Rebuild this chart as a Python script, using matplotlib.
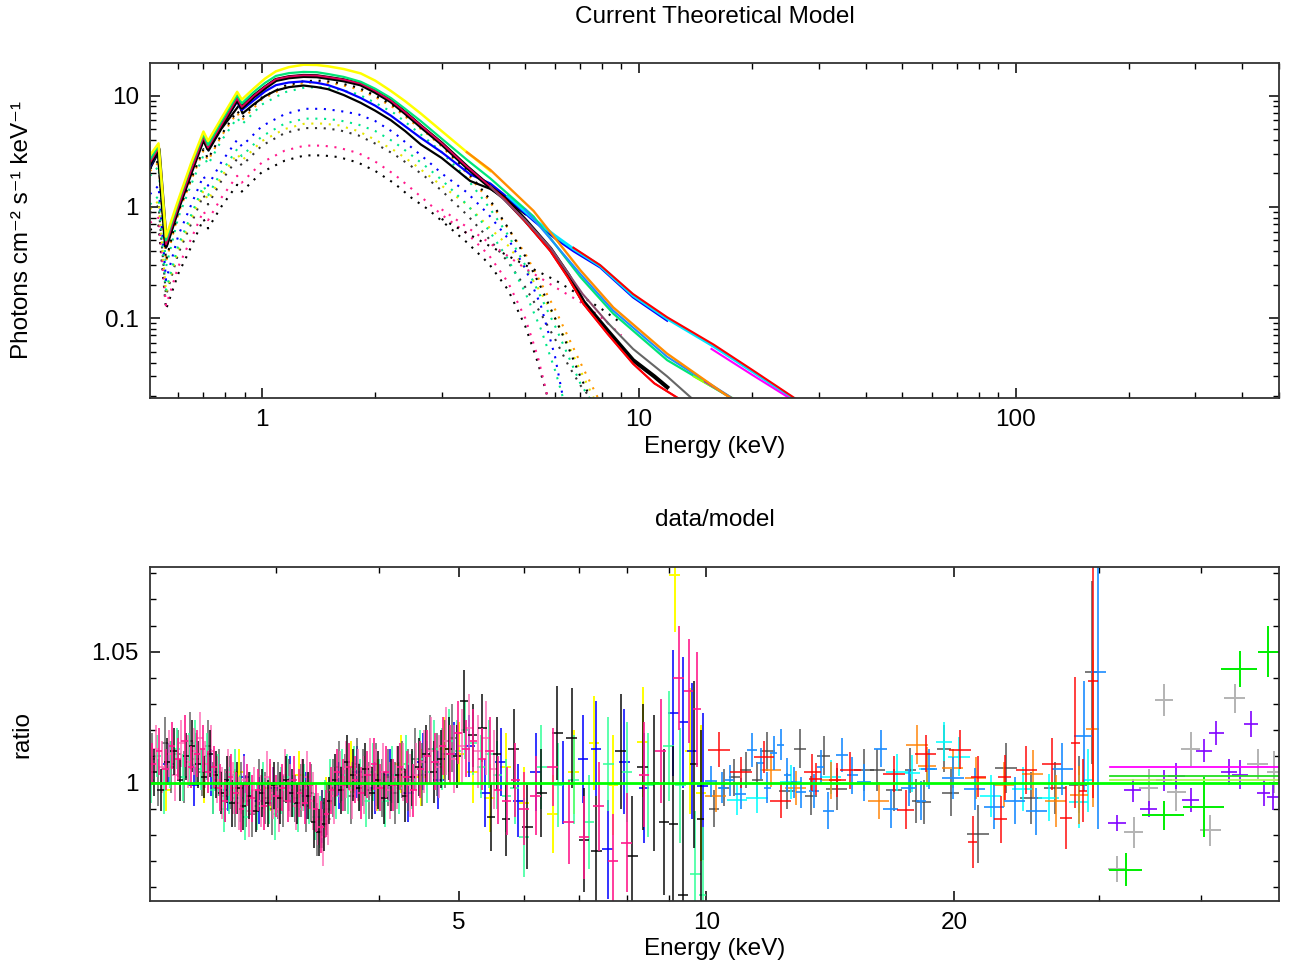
import numpy as np
import matplotlib
matplotlib.use('Agg')
import matplotlib.pyplot as plt
from matplotlib.ticker import FixedLocator, FixedFormatter, NullFormatter, MultipleLocator

plt.rcParams['font.family'] = ['Liberation Sans', 'DejaVu Sans']
FS = 17.5

# ---------------- top panel: model curves (keV, photons cm^-2 s^-1 keV^-1) ----------------
soft_e = [0.505, 0.532, 0.557, 0.60, 0.65, 0.70, 0.72, 0.78, 0.86, 0.885, 0.95, 1.02, 1.09, 1.18, 1.29, 1.4, 1.5,
          1.65, 1.83, 2.0, 2.2, 2.4, 2.64, 3.0, 3.5, 4.04]
yellow_f = [2.9, 3.72, 0.54, 1.15, 2.5, 4.75, 3.9, 6.2, 10.8, 9.2, 11.5, 14.2, 16.5, 18.0, 18.9, 18.8, 18.3,
            17.3, 15.8, 13.6, 11.0, 8.9, 6.9, 4.8, 3.1, 2.1]

green_e = soft_e + [5.26, 7.0, 8.56, 11.9, 17.6]
green_f = [2.65, 3.55, 0.5, 1.1, 2.4, 4.5, 3.6, 5.8, 10.1, 8.5, 10.7, 13.0, 15.0, 15.9, 16.3, 16.2, 15.6,
           14.7, 13.3, 11.5, 9.5, 7.6, 5.9, 4.1, 2.65, 1.8,
           0.82, 0.235, 0.11, 0.042, 0.0192]

red_e = soft_e + [4.4, 5.0, 5.83, 6.5, 7.14, 8.25, 9.66, 11.0, 12.7]
red_f = [2.5, 3.35, 0.46, 1.0, 2.15, 4.2, 3.4, 5.4, 9.4, 7.9, 9.9, 12.0, 14.0, 14.8, 15.2, 15.1, 14.6,
         13.9, 12.8, 11.0, 9.0, 7.1, 5.4, 3.75, 2.3, 1.52,
         1.18, 0.74, 0.40, 0.23, 0.134, 0.073, 0.039, 0.026, 0.0192]
blackthick_e = soft_e + [4.4, 5.0, 5.83, 6.5, 7.14, 8.25, 9.66, 11.0, 11.9]
blackthick_f = [2.45, 3.3, 0.45, 0.98, 2.1, 4.15, 3.35, 5.3, 9.3, 7.8, 9.8, 11.8, 13.8, 14.6, 15.0, 14.9, 14.4,
                13.7, 12.6, 10.8, 8.9, 7.0, 5.3, 3.7, 2.28, 1.5,
                1.2, 0.76, 0.42, 0.245, 0.14, 0.078, 0.042, 0.03, 0.024]

mauve_e = [4.04, 5.0, 5.83, 7.1, 8.25]
mauve_f = [1.52, 0.76, 0.43, 0.165, 0.092]
gray_e = [8.25, 9.66, 11.9, 13.8]
gray_f = [0.092, 0.053, 0.03, 0.0192]

blue_e = [0.505, 0.532, 0.557, 0.60, 0.65, 0.70, 0.72, 0.78, 0.86, 0.885, 0.95, 1.02, 1.09, 1.18, 1.29, 1.4, 1.5,
          1.65, 1.83, 2.0, 2.2, 2.4, 2.64, 3.0, 3.57, 4.04, 4.38, 5.26, 6.0, 6.71, 7.9, 9.66, 11.9]
blue_f = [2.3, 3.2, 0.44, 1.0, 2.2, 4.1, 3.3, 5.3, 8.8, 7.4, 9.0, 10.9, 12.4, 13.1, 13.4, 13.0, 12.4,
          11.1, 9.5, 8.1, 6.6, 5.3, 4.17, 3.1, 1.96, 1.62, 1.30, 0.75, 0.52, 0.40, 0.286, 0.154, 0.095]

blacklow_e = [0.505, 0.532, 0.557, 0.60, 0.65, 0.70, 0.722, 0.78, 0.871, 0.889, 0.95, 1.02, 1.09, 1.18, 1.29, 1.4,
              1.5, 1.65, 1.83, 2.0, 2.2, 2.4, 2.64, 3.0, 3.57, 4.04, 4.38, 5.0]
blacklow_f = [2.2, 3.1, 0.43, 0.98, 2.1, 4.0, 3.2, 5.0, 8.2, 6.9, 8.3, 9.9, 11.1, 11.9, 12.3, 11.9,
              11.4, 10.1, 8.6, 7.3, 6.0, 4.8, 3.64, 2.75, 1.71, 1.45, 1.22, 0.86]

cyan_e = [4.5, 5.26, 6.0, 6.71, 7.9, 9.66, 11.9, 15.8, 20.1, 25.6]
cyan_f = [1.25, 0.78, 0.55, 0.42, 0.295, 0.16, 0.099, 0.056, 0.033, 0.0192]
redhard_e = [6.71, 7.9, 9.66, 11.9, 15.8, 20.1, 25.9]
redhard_f = [0.43, 0.30, 0.165, 0.102, 0.058, 0.034, 0.0192]
magenta_e = [15.6, 20.0, 25.1]
magenta_f = [0.053, 0.031, 0.0192]

orange_e = [3.5, 4.04, 5.26, 7.0, 8.56, 11.9, 17.5]
orange_f = [3.1, 2.15, 0.92, 0.27, 0.125, 0.048, 0.0192]
dodger_e = [5.0, 7.0, 8.56, 11.9, 17.7]
dodger_f = [0.95, 0.25, 0.117, 0.045, 0.0192]
lime_e = [14.0, 17.7]
lime_f = [0.03, 0.0192]
violet_e = [15.0, 17.6]
violet_f = [0.027, 0.0192]

# dotted model components
dot_e = [0.505, 0.532, 0.557, 0.60, 0.65, 0.70, 0.72, 0.78, 0.86, 0.885, 1.0, 1.15, 1.3, 1.45, 1.6, 1.8, 2.0,
         2.25, 2.5, 2.75, 3.0, 3.5, 4.0, 4.5, 5.0]
comp1_f = [2.2, 2.6, 0.33, 0.9, 1.8, 3.3, 2.7, 4.4, 7.3, 6.3, 9.6, 12.2, 13.5, 13.6, 13.0, 11.8, 10.0,
           8.0, 6.0, 4.7, 3.6, 2.1, 1.2, 0.65, 0.36]
comp1_tail_e = [5.5, 6.0, 6.5, 7.0, 7.45]
comp1_tail_f = [0.19, 0.10, 0.055, 0.030, 0.0192]
comp2_f = [2.1, 2.5, 0.32, 0.87, 1.75, 3.2, 2.6, 4.3, 7.0, 6.0, 9.2, 11.8, 13.0, 13.1, 12.6, 11.4, 9.7,
           7.7, 5.8, 4.5, 3.5, 2.0, 1.15, 0.64, 0.38]
comp2_tail_e = [6.0, 7.0, 7.8]
comp2_tail_f = [0.12, 0.04, 0.0192]
comp3_f = [1.9, 2.3, 0.29, 0.8, 1.6, 2.9, 2.4, 3.9, 6.3, 5.5, 8.3, 10.7, 11.8, 11.9, 11.3, 10.3, 8.6,
           6.9, 5.2, 4.0, 3.1, 1.8, 1.0, 0.56, 0.30]
comp3_tail_e = [6.0, 7.0, 7.4]
comp3_tail_f = [0.085, 0.026, 0.0192]
comp4_f = [1.3, 1.55, 0.22, 0.55, 1.05, 1.9, 1.55, 2.5, 4.0, 3.5, 5.3, 6.8, 7.6, 7.6, 7.3, 6.8, 5.9,
           4.6, 3.4, 2.6, 2.0, 1.35, 0.85, 0.52, 0.28]
comp4_tail_e = [5.5, 6.0, 6.3]
comp4_tail_f = [0.13, 0.045, 0.0192]
comp5_f = [1.05, 1.25, 0.18, 0.45, 0.85, 1.55, 1.27, 2.05, 3.3, 2.85, 4.3, 5.6, 6.2, 6.2, 6.0, 5.5, 4.8,
           3.8, 2.9, 2.25, 1.75, 1.05, 0.62, 0.34, 0.17]
comp5_tail_e = [5.5, 6.0, 6.3]
comp5_tail_f = [0.08, 0.034, 0.0192]
comp6_f = [0.95, 1.13, 0.17, 0.41, 0.78, 1.4, 1.15, 1.85, 3.0, 2.6, 3.9, 5.0, 5.6, 5.6, 5.4, 4.8, 4.0,
           3.2, 2.5, 1.95, 1.55, 1.05, 0.66, 0.45, 0.28]
comp6_tail_e = [5.5, 6.0, 6.5, 7.0, 7.6]
comp6_tail_f = [0.17, 0.10, 0.058, 0.034, 0.0192]
comp7_f = [0.88, 1.03, 0.16, 0.38, 0.71, 1.28, 1.05, 1.7, 2.7, 2.35, 3.55, 4.6, 5.1, 5.1, 4.9, 4.4, 3.7,
           2.95, 2.3, 1.8, 1.4, 0.85, 0.52, 0.32, 0.19]
comp7_tail_e = [5.5, 6.0, 6.5, 7.0, 7.45]
comp7_tail_f = [0.11, 0.065, 0.038, 0.025, 0.0192]
comp8_f = [0.72, 0.8, 0.13, 0.29, 0.52, 0.92, 0.76, 1.2, 1.9, 1.65, 2.5, 3.2, 3.55, 3.55, 3.4, 3.05, 2.55,
           1.95, 1.45, 1.1, 0.85, 0.58, 0.37, 0.21, 0.10]
comp8_tail_e = [5.4, 5.74]
comp8_tail_f = [0.045, 0.0192]
comp9_f = [0.62, 0.68, 0.12, 0.25, 0.44, 0.78, 0.64, 1.0, 1.58, 1.37, 2.05, 2.6, 2.9, 2.9, 2.8, 2.5, 2.1,
           1.62, 1.2, 0.96, 0.75, 0.48, 0.31, 0.18, 0.085]
comp9_tail_e = [5.4, 5.74]
comp9_tail_f = [0.04, 0.0192]

pl_e = [3.0, 4.0, 5.0, 6.0, 7.0, 8.0, 9.0]
pl_pink_f = [0.95, 0.48, 0.28, 0.19, 0.14, 0.10, 0.07]
pl_black_f = [0.78, 0.45, 0.30, 0.22, 0.16, 0.12, 0.09]

# ---------------- bottom panel: data/model ratios ----------------
pink_e = [2.12, 2.16, 2.20, 2.24, 2.28, 2.32, 2.36, 2.40, 2.44, 2.48,
          2.52, 2.56, 2.60, 2.64, 2.68, 2.72, 2.76, 2.80, 2.85, 2.90,
          2.95, 3.00, 3.05, 3.10, 3.15, 3.20, 3.25, 3.30, 3.35, 3.40,
          3.45, 3.50, 3.56, 3.62, 3.68, 3.74, 3.80, 3.87, 3.94, 4.01,
          4.08, 4.16, 4.24, 4.32, 4.40, 4.49, 4.58, 4.68, 4.78, 4.88,
          4.99, 5.10, 5.21, 5.33, 5.45, 5.58, 5.72, 5.86, 6.0, 6.2,
          6.5, 6.8, 7.1, 7.4, 7.7, 8.0, 8.4, 8.8, 9.25, 9.52, 9.75]
pink_r = [1.007, 1.012, 1.005, 1.014, 1.009, 1.016, 1.006, 1.011, 1.013, 1.004,
          1.006, 0.998, 0.993, 1.002, 0.996, 0.990, 0.999, 0.994, 0.997, 0.991,
          1.000, 0.995, 0.998, 0.993, 1.001, 0.996, 0.992, 0.999, 0.990, 0.983,
          0.988, 0.997, 1.004, 0.999, 1.006, 1.001, 0.996, 1.003, 1.007, 0.998,
          1.004, 0.999, 1.006, 1.002, 0.997, 1.005, 1.010, 1.008, 1.014, 1.011,
          1.019, 1.013, 1.016, 1.009, 1.012, 0.997, 0.993, 1.001, 0.990, 0.995,
          1.006, 0.985, 0.979, 0.991, 0.970, 0.977, 1.003, 1.012, 1.040, 1.035, 1.028]
pink_err = [0.008, 0.009, 0.008, 0.009, 0.008, 0.010, 0.008, 0.009, 0.009, 0.008,
            0.008, 0.009, 0.008, 0.009, 0.008, 0.009, 0.008, 0.009, 0.008, 0.009,
            0.009, 0.008, 0.009, 0.008, 0.009, 0.009, 0.008, 0.009, 0.009, 0.010,
            0.009, 0.009, 0.009, 0.010, 0.009, 0.009, 0.010, 0.009, 0.010, 0.009,
            0.010, 0.010, 0.009, 0.010, 0.010, 0.011, 0.010, 0.011, 0.011, 0.011,
            0.012, 0.011, 0.012, 0.012, 0.013, 0.013, 0.013, 0.014, 0.014, 0.015,
            0.015, 0.016, 0.016, 0.017, 0.018, 0.019, 0.020, 0.020, 0.020, 0.020, 0.022]

pink2_e = [2.14, 2.18, 2.22, 2.26, 2.30, 2.34, 2.38, 2.42, 2.46, 2.50,
           2.54, 2.58, 2.62, 2.66, 2.70, 2.74, 2.78, 2.82, 2.87, 2.92,
           2.97, 3.02, 3.07, 3.12, 3.17, 3.22, 3.27, 3.32, 3.37, 3.42,
           3.47, 3.53, 3.59, 3.65, 3.71, 3.77, 3.83, 3.90, 3.97, 4.04,
           4.12, 4.20, 4.28, 4.36, 4.44, 4.53, 4.63, 4.73, 4.83, 4.93,
           5.04, 5.15, 5.27, 5.39, 5.52]
pink2_r = [1.013, 1.006, 1.011, 1.003, 1.015, 1.008, 1.012, 1.017, 1.007, 1.012,
           1.001, 0.996, 1.004, 0.998, 0.992, 1.001, 0.989, 0.997, 0.993, 1.002,
           0.996, 0.990, 1.003, 0.997, 0.991, 0.999, 1.002, 0.993, 0.986, 0.979,
           0.986, 0.995, 1.002, 1.005, 0.997, 1.003, 0.999, 1.006, 1.001, 1.004,
           0.997, 1.002, 1.004, 0.999, 1.003, 1.008, 1.012, 1.006, 1.016, 1.009,
           1.014, 1.021, 1.012, 1.017, 1.005]
pink2_err = [0.009, 0.010, 0.009, 0.010, 0.009, 0.010, 0.009, 0.010, 0.009, 0.010,
             0.009, 0.010, 0.009, 0.010, 0.010, 0.009, 0.010, 0.009, 0.010, 0.010,
             0.010, 0.009, 0.010, 0.010, 0.009, 0.010, 0.010, 0.011, 0.010, 0.011,
             0.010, 0.011, 0.010, 0.011, 0.011, 0.010, 0.011, 0.011, 0.012, 0.011,
             0.011, 0.012, 0.011, 0.012, 0.012, 0.012, 0.013, 0.012, 0.013, 0.013,
             0.014, 0.013, 0.014, 0.014, 0.015]

gray2_e = [2.115, 2.155, 2.195, 2.235, 2.275, 2.315, 2.355, 2.395, 2.435, 2.475,
           2.515, 2.555, 2.595, 2.635, 2.675, 2.715, 2.755, 2.80, 2.86, 2.91,
           2.96, 3.01, 3.06, 3.11, 3.16, 3.21, 3.26, 3.31, 3.36, 3.41,
           3.46, 3.52, 3.58, 3.64, 3.70, 3.76, 3.82, 3.89, 3.96, 4.03,
           4.10, 4.18, 4.26, 4.34, 4.42, 4.51, 4.61, 4.71, 4.81, 4.91]
gray2_r = [1.009, 1.000, 1.015, 1.006, 1.011, 1.002, 1.016, 1.009, 1.004, 1.014,
           0.998, 1.004, 0.995, 1.000, 0.994, 0.998, 0.993, 0.988, 0.999, 0.994,
           0.990, 0.997, 0.993, 0.999, 0.994, 0.997, 0.991, 0.996, 0.982, 0.986,
           0.990, 0.998, 1.006, 1.000, 0.995, 1.007, 1.002, 0.997, 1.003, 0.998,
           1.002, 0.996, 1.005, 1.001, 1.009, 1.003, 1.013, 1.007, 1.011, 1.017]
gray2_err = [0.010, 0.009, 0.010, 0.010, 0.009, 0.010, 0.011, 0.010, 0.009, 0.010,
             0.010, 0.009, 0.010, 0.010, 0.011, 0.010, 0.010, 0.009, 0.010, 0.010,
             0.010, 0.011, 0.010, 0.010, 0.009, 0.010, 0.010, 0.011, 0.010, 0.011,
             0.010, 0.011, 0.010, 0.011, 0.011, 0.010, 0.011, 0.011, 0.012, 0.011,
             0.011, 0.012, 0.011, 0.012, 0.012, 0.012, 0.013, 0.012, 0.013, 0.013]

green_de = [2.11, 2.15, 2.19, 2.23, 2.27, 2.31, 2.35, 2.39, 2.43, 2.47,
            2.51, 2.55, 2.59, 2.63, 2.67, 2.71, 2.75, 2.79, 2.84, 2.89,
            2.94, 2.99, 3.04, 3.09, 3.14, 3.19, 3.24, 3.29, 3.34, 3.39,
            3.44, 3.49, 3.55, 3.61, 3.67, 3.73, 3.79, 3.86, 3.93, 4.00,
            4.07, 4.15, 4.23, 4.31, 4.39, 4.48, 4.57, 4.67, 4.77, 4.87,
            4.98, 5.09, 5.20, 5.32, 5.44, 5.57, 5.71, 5.85, 6.0, 6.3,
            6.6, 6.9, 7.2, 7.6, 8.0, 8.5, 9.0, 9.3, 9.7, 9.9]
green_dr = [1.001, 1.010, 0.997, 1.007, 1.013, 1.002, 1.009, 1.015, 1.005, 1.010,
            0.997, 1.003, 0.990, 0.997, 1.003, 0.994, 0.987, 0.996, 0.991, 0.999,
            0.993, 0.988, 0.997, 1.002, 0.995, 0.990, 0.998, 0.994, 0.987, 0.985,
            0.992, 0.999, 0.995, 1.003, 0.998, 1.005, 0.999, 0.993, 1.004, 0.999,
            0.993, 1.003, 0.998, 1.007, 1.001, 1.009, 1.004, 1.013, 1.009, 1.016,
            1.012, 1.020, 1.015, 1.006, 1.011, 1.003, 0.995, 0.998, 0.979, 1.006,
            0.999, 1.001, 0.985, 1.007, 1.004, 0.999, 1.014, 0.999, 0.965, 0.957]
green_derr = [0.009, 0.008, 0.009, 0.009, 0.008, 0.009, 0.010, 0.009, 0.008, 0.009,
              0.009, 0.008, 0.009, 0.009, 0.010, 0.009, 0.009, 0.008, 0.009, 0.009,
              0.009, 0.010, 0.009, 0.009, 0.008, 0.009, 0.009, 0.010, 0.009, 0.010,
              0.009, 0.010, 0.009, 0.010, 0.010, 0.009, 0.010, 0.010, 0.011, 0.010,
              0.010, 0.011, 0.010, 0.011, 0.011, 0.011, 0.012, 0.011, 0.012, 0.012,
              0.012, 0.011, 0.012, 0.012, 0.013, 0.013, 0.014, 0.014, 0.015, 0.016,
              0.016, 0.017, 0.018, 0.018, 0.019, 0.020, 0.021, 0.022, 0.024, 0.026]

black_de = [2.13, 2.17, 2.21, 2.25, 2.29, 2.33, 2.37, 2.41, 2.45, 2.49,
            2.53, 2.57, 2.61, 2.65, 2.69, 2.73, 2.78, 2.83, 2.88, 2.93,
            2.98, 3.03, 3.08, 3.13, 3.18, 3.23, 3.28, 3.33, 3.38, 3.43,
            3.48, 3.54, 3.60, 3.66, 3.72, 3.78, 3.85, 3.92, 3.99, 4.06,
            4.14, 4.22, 4.30, 4.38, 4.47, 4.56, 4.66, 4.76, 4.86, 4.97,
            5.08, 5.20, 5.34, 5.47, 5.57, 5.71, 5.83, 6.06, 6.3, 6.59,
            6.86, 7.10, 7.35, 7.87, 8.13, 8.37, 8.63, 8.88, 9.12, 9.37, 9.66, 9.85]
black_dr = [1.004, 0.997, 1.008, 1.012, 1.001, 1.010, 1.014, 1.007, 1.002, 1.011,
            1.003, 0.996, 1.001, 0.992, 0.998, 0.991, 0.995, 0.989, 0.996, 0.992,
            0.999, 0.994, 1.001, 0.996, 0.992, 1.000, 0.995, 0.985, 0.981, 0.984,
            0.993, 1.001, 0.997, 1.008, 1.003, 0.998, 1.005, 0.996, 1.001, 0.994,
            0.999, 1.003, 0.995, 1.002, 1.006, 1.011, 1.004, 1.009, 1.013, 1.010,
            1.031, 1.018, 1.021, 0.987, 1.011, 0.986, 1.013, 0.983, 0.996, 1.019,
            1.017, 0.978, 0.974, 1.012, 0.972, 1.006, 1.000, 0.985, 0.984, 0.957, 1.007, 0.986]
black_derr = [0.009, 0.008, 0.009, 0.009, 0.008, 0.009, 0.010, 0.009, 0.008, 0.009,
              0.009, 0.008, 0.009, 0.009, 0.010, 0.009, 0.009, 0.008, 0.009, 0.009,
              0.009, 0.010, 0.009, 0.009, 0.008, 0.009, 0.009, 0.010, 0.009, 0.010,
              0.009, 0.010, 0.009, 0.010, 0.010, 0.009, 0.010, 0.010, 0.011, 0.010,
              0.010, 0.011, 0.010, 0.011, 0.011, 0.011, 0.012, 0.011, 0.012, 0.012,
              0.012, 0.012, 0.013, 0.013, 0.014, 0.014, 0.015, 0.016, 0.017, 0.018,
              0.019, 0.020, 0.021, 0.022, 0.023, 0.024, 0.026, 0.028, 0.030, 0.040, 0.032, 0.034]

blue_de = [2.22, 2.38, 2.50, 2.62, 2.74, 2.86, 2.97, 3.12, 3.26, 3.41, 3.58, 3.76, 3.95, 4.12, 4.34, 4.52, 4.72,
           4.93, 5.15, 5.38, 5.62, 5.90, 6.20, 6.70, 7.08, 7.34, 7.59, 7.95, 8.4, 9.12, 9.37, 9.60, 9.90]
blue_dr = [1.007, 0.999, 1.004, 0.997, 1.002, 0.993, 0.998, 1.001, 0.995, 0.987, 0.999, 1.004, 0.998, 1.003, 0.996,
           1.008, 1.001, 1.011, 1.014, 0.996, 1.008, 0.993, 1.004, 1.000, 1.009, 1.013, 0.9745, 1.008, 0.998,
           1.0266, 1.023, 1.012, 0.9985]
blue_derr = [0.008, 0.008, 0.009, 0.008, 0.009, 0.009, 0.008, 0.009, 0.009, 0.010, 0.009, 0.010, 0.010, 0.010, 0.011,
             0.011, 0.011, 0.012, 0.012, 0.013, 0.013, 0.014, 0.015, 0.016, 0.017, 0.018, 0.019, 0.020, 0.021,
             0.024, 0.025, 0.026, 0.028]

yellow_de = [2.20, 2.45, 2.70, 2.95, 3.20, 3.45, 3.70, 3.98, 4.25, 4.50, 4.80, 5.00, 5.20, 5.45, 5.70, 6.0, 6.5,
             6.9, 7.3, 7.7, 8.37, 9.15, 9.55, 9.85]
yellow_dr = [0.997, 1.000, 1.004, 0.998, 1.003, 0.992, 1.006, 0.999, 1.007, 1.002, 1.013, 1.011, 1.004, 0.994,
             1.006, 0.992, 0.988, 1.004, 1.015, 0.999, 1.0156, 1.0794, 1.012, 0.996]
yellow_derr = [0.008, 0.008, 0.009, 0.009, 0.009, 0.010, 0.010, 0.010, 0.011, 0.011, 0.012, 0.012, 0.012, 0.013,
               0.013, 0.014, 0.015, 0.016, 0.018, 0.019, 0.021, 0.022, 0.024, 0.026]

red_he = [10.36, 11.03, 11.75, 12.31, 13.45, 13.58, 14.43, 14.97, 16.91, 17.47, 18.48, 20.36, 21.07, 21.42,
          22.8, 23.05, 24.5, 26.3, 27.35, 28.1, 28.7, 29.5]
red_hr = [1.0125, 1.0039, 1.0097, 0.9931, 1.0039, 1.0014, 1.0008, 1.0046, 1.0033, 0.9896, 1.011, 1.0125, 0.9772,
          1.0023, 0.9859, 1.002, 1.0048, 1.0071, 0.9865, 1.0153, 0.9969, 1.039]
red_herr = [0.0067, 0.006, 0.006, 0.0065, 0.007, 0.006, 0.0065, 0.007, 0.007, 0.0075, 0.007, 0.0075, 0.010,
            0.008, 0.009, 0.0085, 0.009, 0.010, 0.012, 0.025, 0.012, 0.045]

dodger_he = [10.12, 10.46, 10.67, 11.01, 11.37, 11.64, 11.86, 12.08, 12.31, 12.54, 12.78, 13.02, 13.51, 13.77,
             14.07, 14.63, 15.05, 15.55, 16.29, 16.75, 17.63, 18.22, 18.65, 19.96, 21.2, 22.4, 23.72, 25.2,
             27.1, 28.75, 29.97]
dodger_hr = [1.0005, 0.998, 1.0008, 0.9958, 1.0125, 1.0073, 0.998, 1.0112, 1.0145, 1.0027, 1.0001, 0.9963,
             0.9969, 1.0058, 0.9893, 1.0107, 1.0027, 1.0001, 1.0129, 0.990, 0.998, 0.9931, 1.0052, 1.0016,
             0.9976, 0.9908, 0.9931, 0.989, 1.0052, 1.0179, 1.0421]
dodger_herr = [0.006, 0.006, 0.006, 0.006, 0.0065, 0.006, 0.006, 0.0065, 0.006, 0.0065, 0.006, 0.006, 0.0065,
               0.0065, 0.007, 0.0065, 0.007, 0.007, 0.007, 0.0075, 0.007, 0.0075, 0.0075, 0.008, 0.008, 0.0085,
               0.009, 0.009, 0.010, 0.021, 0.060]

orange_he = [10.26, 11.97, 12.84, 14.16, 16.21, 18.05, 18.57, 19.93, 21.26, 23.0, 24.95, 26.6, 28.4, 29.5]
orange_hr = [0.9947, 1.0048, 0.998, 1.0008, 0.9931, 1.0144, 1.0064, 1.0055, 1.0016, 0.9992, 1.0033, 0.9929,
             0.9953, 1.0205]
orange_herr = [0.006, 0.0065, 0.0065, 0.007, 0.007, 0.0075, 0.007, 0.0075, 0.008, 0.0085, 0.009, 0.010,
               0.011, 0.030]

cyan_he = [10.90, 11.53, 12.66, 14.16, 17.07, 17.80, 18.57, 19.46, 20.30, 22.16, 24.26, 26.09, 28.35, 29.11]
cyan_hr = [0.9934, 0.9942, 1.0001, 1.002, 1.0039, 1.0035, 1.0052, 1.0156, 1.0099, 0.995, 0.9976, 0.9942,
           0.9927, 1.0008]
cyan_herr = [0.006, 0.006, 0.0065, 0.0065, 0.007, 0.007, 0.007, 0.0075, 0.0075, 0.008, 0.0085, 0.009,
             0.010, 0.012]

gray_he = [10.21, 10.50, 10.82, 11.16, 11.53, 11.86, 12.54, 13.00, 13.39, 13.90, 14.40, 15.55, 16.14, 16.91,
           17.71, 17.97, 18.39, 19.46, 19.83, 21.40, 23.15, 24.82, 26.57, 28.35, 29.45]
gray_hr = [0.990, 0.998, 1.002, 1.0048, 1.0008, 1.0119, 0.9967, 1.0129, 0.995, 1.0103, 0.9976, 1.0048, 1.0048,
           0.9972, 1.0046, 0.9929, 0.9925, 1.0129, 0.9961, 0.9804, 1.0056, 0.9942, 0.998, 0.9992, 1.0421]
gray_herr = [0.007, 0.007, 0.007, 0.007, 0.007, 0.0075, 0.007, 0.0075, 0.0075, 0.0075, 0.008, 0.008, 0.008,
             0.008, 0.0085, 0.0085, 0.0085, 0.009, 0.009, 0.011, 0.0095, 0.010, 0.010, 0.011, 0.035]

purple_e = [31.6, 33.0, 34.5, 36.0, 37.3, 38.8, 40.3, 41.7, 43.2, 44.6, 46.0, 47.6, 48.9]
purple_r = [0.9846, 0.997, 0.990, 1.0008, 1.0024, 0.9934, 1.0122, 1.019, 1.004, 1.003, 1.0224, 0.9959, 0.9944]
purple_err = [0.003, 0.0045, 0.003, 0.004, 0.005, 0.0045, 0.0045, 0.0045, 0.005, 0.0055, 0.005, 0.005, 0.005]
purple_xerr = [0.8, 0.8, 0.8, 0.8, 0.9, 0.9, 0.9, 0.9, 1.0, 1.0, 0.9, 0.9, 0.8]

lgray_e = [31.6, 33.1, 34.5, 36.0, 37.3, 38.8, 41.0, 43.9, 46.8, 49.0]
lgray_r = [0.967, 0.981, 0.998, 1.0316, 0.9963, 1.013, 0.9817, 1.0322, 1.0071, 1.0039]
lgray_err = [0.005, 0.006, 0.007, 0.006, 0.007, 0.0065, 0.006, 0.0055, 0.0058, 0.008]
lgray_xerr = [0.8, 0.9, 0.9, 0.9, 1.0, 1.0, 1.2, 1.3, 1.4, 1.0]

lime_de = [32.4, 36.0, 40.3, 44.5, 48.2]
lime_dr = [0.9667, 0.9874, 0.9906, 1.0434, 1.05]
lime_derr = [0.0062, 0.0055, 0.0115, 0.0068, 0.0097]
lime_dxerr = [1.5, 2.1, 2.3, 2.2, 1.4]

hi_lines_r = [1.0061, 1.0024, 1.0008]
hi_lines_start = 31.0


def half_width(e, frac):
    e = np.asarray(e)
    return np.minimum(np.gradient(e) / 2.0, frac * e)


fig = plt.figure(figsize=(12.91, 9.67), dpi=100)
W, H = 1291.0, 967.0
ax1 = fig.add_axes([150 / W, 1 - 398 / H, 1129 / W, 335 / H])
ax2 = fig.add_axes([150 / W, 1 - 901 / H, 1129 / W, 334 / H])

# ---- top panel ----
dot = (0, (1, 3.2))
comps = [(comp9_f, comp9_tail_e, comp9_tail_f, 'black'),
         (comp8_f, comp8_tail_e, comp8_tail_f, '#ff1a8c'),
         (comp7_f, comp7_tail_e, comp7_tail_f, '#333333'),
         (comp6_f, comp6_tail_e, comp6_tail_f, '#e6e600'),
         (comp5_f, comp5_tail_e, comp5_tail_f, '#00e68a'),
         (comp4_f, comp4_tail_e, comp4_tail_f, '#0000ff'),
         (comp3_f, comp3_tail_e, comp3_tail_f, '#00e68a'),
         (comp2_f, comp2_tail_e, comp2_tail_f, '#ff9900'),
         (comp1_f, comp1_tail_e, comp1_tail_f, 'black')]
for f, te, tf, c in comps:
    ax1.plot(dot_e + te, f + tf, color=c, lw=1.5, ls=dot)
ax1.plot(pl_e, pl_pink_f, color='#ff1a8c', lw=1.5, ls=dot)
ax1.plot(pl_e, pl_black_f, color='black', lw=1.5, ls=dot)

ax1.plot(blacklow_e, blacklow_f, color='black', lw=1.6)
ax1.plot(blue_e, blue_f, color='#0000ff', lw=1.6)
ax1.plot(cyan_e, cyan_f, color='#00e5ff', lw=2.2)
ax1.plot(redhard_e, redhard_f, color='#ff0000', lw=1.5)
ax1.plot(magenta_e, magenta_f, color='#ff00ff', lw=1.5)
ax1.plot(blackthick_e, blackthick_f, color='black', lw=3.0)
ax1.plot(red_e, red_f, color='#e0005a', lw=1.3)
ax1.plot(red_e[25:], red_f[25:], color='#ff0000', lw=1.5)
ax1.plot(mauve_e, mauve_f, color='#8b4a6b', lw=1.5)
ax1.plot(gray_e, gray_f, color='#666666', lw=1.5)
ax1.plot(green_e, green_f, color='#00e676', lw=1.6)
ax1.plot(dodger_e, dodger_f, color='#1e8fff', lw=1.5)
ax1.plot(lime_e, lime_f, color='#99ff00', lw=1.5)
ax1.plot(violet_e, violet_f, color='#8000ff', lw=1.5)
ax1.plot(soft_e, yellow_f, color='#ffff00', lw=1.8)
ax1.plot(orange_e, orange_f, color='#ff8c00', lw=1.7)

ax1.set_xscale('log')
ax1.set_yscale('log')
ax1.set_xlim(0.505, 500)
ax1.set_ylim(0.0192, 19.6)
ax1.xaxis.set_major_locator(FixedLocator([1, 10, 100]))
ax1.xaxis.set_major_formatter(FixedFormatter(['1', '10', '100']))
ax1.xaxis.set_minor_locator(FixedLocator([m * d for d in [0.1, 1, 10, 100] for m in range(2, 10)]))
ax1.xaxis.set_minor_formatter(NullFormatter())
ax1.yaxis.set_major_locator(FixedLocator([0.1, 1, 10]))
ax1.yaxis.set_major_formatter(FixedFormatter(['0.1', '1', '10']))
ax1.yaxis.set_minor_locator(FixedLocator([m * d for d in [0.01, 0.1, 1, 10] for m in range(2, 10)]))
ax1.yaxis.set_minor_formatter(NullFormatter())

# ---- bottom panel ----
dense = [(yellow_de, yellow_dr, yellow_derr, '#ffff00', 1.0),
         (blue_de, blue_dr, blue_derr, '#0000ff', 0.8),
         (gray2_e, gray2_r, gray2_err, '#505050', 0.7),
         (green_de, green_dr, green_derr, '#33ff99', 0.8),
         (pink2_e, pink2_r, pink2_err, '#ff66b3', 0.75),
         (black_de, black_dr, black_derr, 'black', 0.75),
         (pink_e, pink_r, pink_err, '#ff1a8c', 0.85)]
for e, r, err, c, a in dense:
    ax2.errorbar(e, r, yerr=err, xerr=half_width(e, 0.015), fmt='none', ecolor=c, elinewidth=1.4, alpha=a)

hard = [(gray_he, gray_hr, gray_herr, '#404040', 0.7),
        (cyan_he, cyan_hr, cyan_herr, '#00ffff', 0.8),
        (orange_he, orange_hr, orange_herr, '#ff8000', 0.75),
        (dodger_he, dodger_hr, dodger_herr, '#1a8cff', 0.85),
        (red_he, red_hr, red_herr, '#ff0000', 0.75)]
for e, r, err, c, a in hard:
    ax2.errorbar(e, r, yerr=err, xerr=half_width(e, 0.03), fmt='none', ecolor=c, elinewidth=1.4, alpha=a)

ax2.errorbar(lgray_e, lgray_r, yerr=lgray_err, xerr=lgray_xerr, fmt='none', ecolor='#b3b3b3', elinewidth=1.4)
ax2.errorbar(purple_e, purple_r, yerr=purple_err, xerr=purple_xerr, fmt='none', ecolor='#8000ff', elinewidth=1.4, alpha=0.85)
ax2.errorbar(lime_de, lime_dr, yerr=lime_derr, xerr=lime_dxerr, fmt='none', ecolor='#00ee00', elinewidth=1.4)
for r, c in zip(hi_lines_r, ['#ff00ff', '#22dd22', '#aaff55']):
    ax2.plot([hi_lines_start, 49.7], [r, r], color=c, lw=1.3)
ax2.axhline(1.0, color='#00ff00', lw=2.0)

ax2.set_xscale('log')
ax2.set_xlim(2.106, 49.7)
ax2.set_ylim(0.9547, 1.0824)
ax2.xaxis.set_major_locator(FixedLocator([5, 10, 20]))
ax2.xaxis.set_major_formatter(FixedFormatter(['5', '10', '20']))
ax2.xaxis.set_minor_locator(FixedLocator([3, 4, 6, 7, 8, 9, 30, 40]))
ax2.xaxis.set_minor_formatter(NullFormatter())
ax2.yaxis.set_major_locator(FixedLocator([1.0, 1.05]))
ax2.yaxis.set_major_formatter(FixedFormatter(['1', '1.05']))
ax2.yaxis.set_minor_locator(MultipleLocator(0.01))

for ax in (ax1, ax2):
    ax.tick_params(which='both', direction='in', top=True, right=True, labelsize=FS, pad=8)
    ax.tick_params(which='major', length=7, width=1.1)
    ax.tick_params(which='minor', length=4, width=1.0)
    for s in ax.spines.values():
        s.set_linewidth(1.3)
        s.set_color('#333333')

cx = (150 + 1279) / 2.0 / W
fig.text(cx, 1 - 17 / H, 'Current Theoretical Model', ha='center', va='center', fontsize=FS)
fig.text(cx, 1 - 447 / H, 'Energy (keV)', ha='center', va='center', fontsize=FS)
fig.text(cx, 1 - 520 / H, 'data/model', ha='center', va='center', fontsize=FS)
fig.text(cx, 1 - 949 / H, 'Energy (keV)', ha='center', va='center', fontsize=FS)
fig.text(22 / W, 1 - 230 / H, 'Photons cm\u207b\u00b2 s\u207b\u00b9 keV\u207b\u00b9', rotation=90,
         ha='center', va='center', fontsize=FS)
fig.text(22 / W, 1 - 734 / H, 'ratio', rotation=90, ha='center', va='center', fontsize=FS)

fig.savefig('out.png', dpi=100)
